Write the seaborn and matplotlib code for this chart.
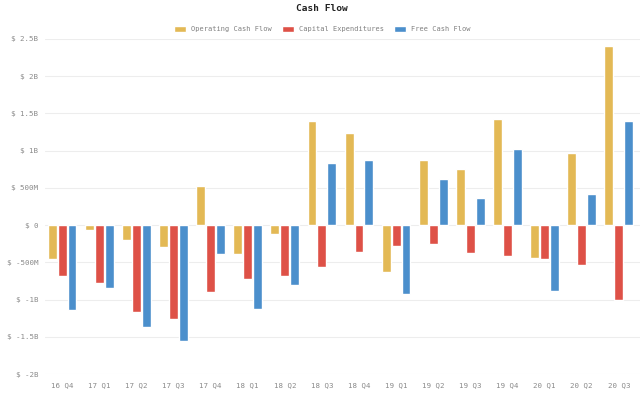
import pandas as pd
import matplotlib.pyplot as plt
import seaborn as sns
from matplotlib.ticker import FuncFormatter

quarters = ["16 Q4", "17 Q1", "17 Q2", "17 Q3", "17 Q4", "18 Q1", "18 Q2", "18 Q3",
            "18 Q4", "19 Q1", "19 Q2", "19 Q3", "19 Q4", "20 Q1", "20 Q2", "20 Q3"]
operating_cf = [-0.46, -0.07, -0.20, -0.30, 0.52, -0.39, -0.12, 1.40,
                1.24, -0.63, 0.87, 0.76, 1.43, -0.44, 0.97, 2.41]
capex = [-0.69, -0.78, -1.17, -1.26, -0.90, -0.73, -0.68, -0.56,
         -0.36, -0.28, -0.25, -0.38, -0.41, -0.45, -0.54, -1.00]
free_cf = [-1.14, -0.85, -1.37, -1.56, -0.39, -1.13, -0.81, 0.84,
           0.88, -0.92, 0.62, 0.37, 1.02, -0.89, 0.42, 1.40]

series = ["Operating Cash Flow", "Capital Expenditures", "Free Cash Flow"]
colors = ["#E3B955", "#DE5147", "#4B8FCC"]
y_ticks = [-2, -1.5, -1, -0.5, 0, 0.5, 1, 1.5, 2, 2.5]


def fmt_money(v, pos=None):
    if v == 0:
        return "$ 0"
    if abs(v) >= 1:
        return f"$ {v:g}B"
    return f"$ {v * 1000:g}M"


df = pd.DataFrame({
    "quarter": quarters * 3,
    "series": [series[0]] * 16 + [series[1]] * 16 + [series[2]] * 16,
    "value": operating_cf + capex + free_cf,
})

sns.set_style("white")
plt.rcParams['font.family'] = ['DejaVu Sans Mono']

fig = plt.figure(figsize=(6.44, 3.96), dpi=100)
# axes box in pixels: x 45..640, y 39..374
ax = fig.add_axes([45 / 644, 22 / 396, 595 / 644, 335 / 396])

sns.barplot(data=df, x="quarter", y="value", hue="series", palette=colors,
            width=0.8, saturation=1, ax=ax, legend=True)

# small gap between bars inside a group
for bar in ax.patches:
    w = bar.get_width()
    bar.set_x(bar.get_x() + w * 0.05)
    bar.set_width(w * 0.9)

ax.set_ylim(-2, 2.5)
ax.set_yticks(y_ticks)
ax.yaxis.set_major_formatter(FuncFormatter(fmt_money))
ax.grid(axis="y", color="#EDEDED", linewidth=0.8)
ax.set_axisbelow(True)
sns.despine(ax=ax, left=True, bottom=True)
ax.set_xlabel("")
ax.set_ylabel("")
ax.tick_params(axis="both", length=0, labelsize=5.4, labelcolor="#8A8A8A")
ax.tick_params(axis="y", pad=5)
ax.tick_params(axis="x", pad=6)
ax.set_xlim(-0.46, len(quarters) - 0.43)

leg = ax.legend(loc="center", bbox_to_anchor=(0.5, 1.03), bbox_transform=fig.transFigure,
                ncol=3, frameon=False, fontsize=5.0, handlelength=1.75,
                handleheight=0.9, handletextpad=0.7, columnspacing=1.45,
                labelcolor="#808080")
leg.set_bbox_to_anchor((0.5, 1 - 29 / 396), transform=fig.transFigure)
fig.suptitle("Cash Flow", x=0.5, y=0.99, fontsize=6.8, fontweight="bold",
             color="#222222")

fig.savefig("out.png", dpi=100)
